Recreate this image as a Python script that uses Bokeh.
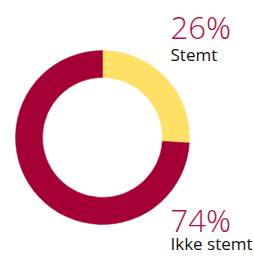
import numpy as np
from bokeh.plotting import figure
from bokeh.models import Range1d, ColumnDataSource
from bokeh.core.properties import value
from bokeh.embed import file_html
from bokeh.resources import INLINE

labels = ["Stemt", "Ikke stemt"]
shares = [26, 74]
pct_labels = ["26%", "74%"]
colors = ["#FFE066", "#A50034"]
text_color = "#B0123F"

W, H = 254, 256
p = figure(width=W, height=H, output_backend="svg", toolbar_location=None,
           x_range=Range1d(0, W), y_range=Range1d(0, H), min_border=0)
p.axis.visible = False
p.grid.visible = False
p.outline_line_color = None
p.background_fill_color = "white"

frac = np.array(shares) / sum(shares)
ends = np.cumsum(frac) * 2 * np.pi
starts = np.concatenate([[0], ends[:-1]])
src = ColumnDataSource(dict(start=np.pi / 2 - starts, end=np.pi / 2 - ends, color=colors))
cx, cy = 102, 119
p.annular_wedge(x=cx, y=cy, inner_radius=60, outer_radius=87,
                start_angle="start", end_angle="end", direction="clock",
                fill_color="color", line_color="color", line_width=0.5, source=src)

font = value("Open Sans")
light = value("Open Sans Light, Open Sans")
tx = 170
p.text(x=[tx], y=[230], text=[pct_labels[0]], text_font=light, text_font_size="31px",
       text_color=text_color, text_baseline="alphabetic")
p.text(x=[tx], y=[202], text=[labels[0]], text_font=font, text_font_size="17px",
       text_color="#111111", text_baseline="alphabetic")
p.text(x=[tx], y=[37], text=[pct_labels[1]], text_font=light, text_font_size="31px",
       text_color=text_color, text_baseline="alphabetic")
p.text(x=[tx], y=[13], text=[labels[1]], text_font=font, text_font_size="17px",
       text_color="#111111", text_baseline="alphabetic")

open("out.html", "w").write(file_html(p, INLINE))
